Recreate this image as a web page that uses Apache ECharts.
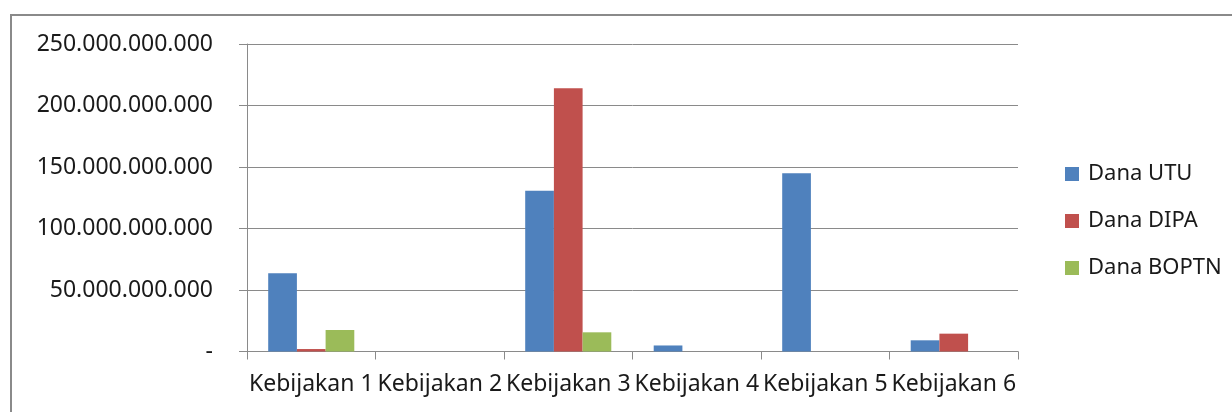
<!DOCTYPE html>
<html lang="id">
<head>
    <meta charset="UTF-8">
    <title>Dana per Kebijakan</title>
    <script src="https://cdn.jsdelivr.net/npm/echarts@6/dist/echarts.min.js"></script>
    <style>
        html, body { margin: 0; padding: 0; background: #fff; }
        .frame {
            position: absolute;
            left: 10px;
            top: 14px;
            width: 1240px;
            height: 420px;
            border: 2px solid #8a8a8a;
        }
        #chart {
            position: absolute;
            left: 0;
            top: 0;
            width: 1232px;
            height: 412px;
        }
    </style>
</head>
<body>
    <div class="frame"></div>
    <div id="chart"></div>
    <script>
        // data
        var categories = ['Kebijakan 1', 'Kebijakan 2', 'Kebijakan 3', 'Kebijakan 4', 'Kebijakan 5', 'Kebijakan 6'];
        var danaUTU = [63600000000, 0, 130600000000, 4900000000, 145000000000, 9100000000];
        var danaDIPA = [2000000000, 0, 214000000000, 0, 0, 14500000000];
        var danaBOPTN = [17500000000, 0, 15600000000, 0, 0, 0];

        function fmt(v) {
            if (v === 0) return '-';
            return String(v).replace(/\B(?=(\d{3})+(?!\d))/g, '.');
        }

        var font = 'Noto Sans';
        var chart = echarts.init(document.getElementById('chart'));
        chart.setOption({
            animation: false,
            textStyle: { fontFamily: font },
            grid: { left: 247, right: 214, top: 44, bottom: 60.5 },
            legend: {
                orient: 'vertical',
                left: 1060,
                top: 158,
                itemWidth: 14,
                itemHeight: 14,
                itemGap: 25,
                icon: 'rect',
                textStyle: { fontSize: 22, lineHeight: 22, color: '#1a1a1a', fontFamily: font, padding: [0, 0, 0, 4] }
            },
            xAxis: {
                type: 'category',
                data: categories,
                axisLine: { lineStyle: { color: '#8a8a8a', width: 1 } },
                axisTick: { show: true, length: 8, lineStyle: { color: '#8a8a8a' } },
                axisLabel: { interval: 0, fontSize: 23, color: '#1a1a1a', margin: 21, fontFamily: font }
            },
            yAxis: {
                type: 'value',
                min: 0,
                max: 250000000000,
                interval: 50000000000,
                axisLine: { show: true, lineStyle: { color: '#8a8a8a' } },
                axisTick: { show: true, length: 8, lineStyle: { color: '#8a8a8a' } },
                splitLine: { lineStyle: { color: '#8a8a8a', width: 1 } },
                axisLabel: { formatter: fmt, fontSize: 23, color: '#1a1a1a', margin: 34, fontFamily: font }
            },
            series: [
                { name: 'Dana UTU', type: 'bar', data: danaUTU, barGap: '0%', barCategoryGap: '33%',
                  itemStyle: { color: '#4F81BD' } },
                { name: 'Dana DIPA', type: 'bar', data: danaDIPA, barGap: '0%', barCategoryGap: '33%',
                  itemStyle: { color: '#C0504D' } },
                { name: 'Dana BOPTN', type: 'bar', data: danaBOPTN, barGap: '0%', barCategoryGap: '33%',
                  itemStyle: { color: '#9BBB59' } }
            ]
        });
    </script>
</body>
</html>
